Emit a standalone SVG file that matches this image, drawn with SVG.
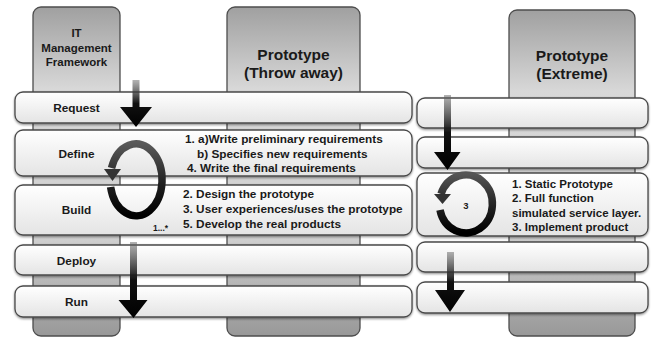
<svg xmlns="http://www.w3.org/2000/svg" width="653" height="341" viewBox="0 0 653 341">
<style>
.col{stroke:#4d4d4d;stroke-width:1.3;fill:url(#colG)}
.bar{stroke:#4a4a4a;stroke-width:1.3;fill:url(#barG);filter:url(#sh)}
.t{font-family:"Liberation Sans",Arial,sans-serif;font-weight:bold;fill:#1a1a1a}
.h{font-size:11.5px;text-anchor:middle}
.big{font-size:15.5px;text-anchor:middle}
.lab{font-size:11.8px;text-anchor:middle}
.it{font-size:11.8px}
.arr{fill:url(#arrG)}
.ring{fill:none;stroke-width:7.5}
</style>
<defs>
<linearGradient id="colG" x1="0" y1="0" x2="0" y2="1">
<stop offset="0" stop-color="#a0a0a0"/>
<stop offset="0.25" stop-color="#d8d8d8"/>
<stop offset="0.7" stop-color="#d0d0d0"/>
<stop offset="1" stop-color="#989898"/>
</linearGradient>
<linearGradient id="barG" x1="0" y1="0" x2="0" y2="1">
<stop offset="0" stop-color="#ffffff"/>
<stop offset="1" stop-color="#e4e4e4"/>
</linearGradient>
<linearGradient id="arrG" x1="0" y1="0" x2="0" y2="1">
<stop offset="0" stop-color="#666" stop-opacity="0.5"/>
<stop offset="0.5" stop-color="#111"/>
<stop offset="1" stop-color="#000"/>
</linearGradient>
<linearGradient id="ringL" gradientUnits="userSpaceOnUse" x1="0" y1="143" x2="0" y2="215">
<stop offset="0" stop-color="#5a5a5a"/>
<stop offset="0.55" stop-color="#222"/>
<stop offset="1" stop-color="#000"/>
</linearGradient>
<linearGradient id="ringR" gradientUnits="userSpaceOnUse" x1="0" y1="174" x2="0" y2="232">
<stop offset="0" stop-color="#555"/>
<stop offset="0.55" stop-color="#222"/>
<stop offset="1" stop-color="#000"/>
</linearGradient>
<filter id="sh" x="-5%" y="-20%" width="110%" height="150%">
<feDropShadow dx="0" dy="1.2" stdDeviation="1.2" flood-color="#000" flood-opacity="0.45"/>
</filter>
</defs>

<g id="col-it">
<rect class="col" x="33" y="7" width="87" height="329" rx="8"/>
<text class="t h" x="76.5" y="37">IT</text>
<text class="t h" x="76.5" y="52">Management</text>
<text class="t h" x="76.5" y="66">Framework</text>
</g>
<g id="col-throw">
<rect class="col" x="227" y="7" width="133" height="329" rx="8"/>
<text class="t big" x="293.5" y="60">Prototype</text>
<text class="t big" x="293.5" y="78">(Throw away)</text>
</g>
<g id="col-extreme">
<rect class="col" x="509" y="10" width="126" height="326" rx="8"/>
<text class="t big" x="572" y="61">Prototype</text>
<text class="t big" x="572" y="79">(Extreme)</text>
</g>

<g id="row-request">
<rect class="bar" x="15" y="92" width="397" height="31" rx="8"/>
<text class="t lab" x="76.5" y="112">Request</text>
</g>
<g id="row-define">
<rect class="bar" x="15" y="130" width="397" height="46" rx="8"/>
<text class="t lab" x="76.5" y="158">Define</text>
<text class="t it" x="185" y="143">1. a)Write preliminary requirements</text>
<text class="t it" x="197" y="158">b) Specifies new requirements</text>
<text class="t it" x="187" y="172">4. Write the final requirements</text>
</g>
<g id="row-build">
<rect class="bar" x="15" y="185" width="397" height="50" rx="8"/>
<text class="t lab" x="76.5" y="214">Build</text>
<text class="t it" x="183" y="198">2. Design the prototype</text>
<text class="t it" x="183" y="213">3. User experiences/uses the prototype</text>
<text class="t it" x="183" y="228">5. Develop the real products</text>
<text class="t" x="153" y="231" style="font-size:8.5px">1...*</text>
</g>
<g id="row-deploy">
<rect class="bar" x="15" y="245" width="397" height="30" rx="8"/>
<text class="t lab" x="76.5" y="265">Deploy</text>
</g>
<g id="row-run">
<rect class="bar" x="15" y="286" width="397" height="31" rx="8"/>
<text class="t lab" x="76.5" y="306">Run</text>
</g>

<g id="rrow-1"><rect class="bar" x="417" y="98" width="231" height="30" rx="8"/></g>
<g id="rrow-2"><rect class="bar" x="417" y="137" width="231" height="31" rx="8"/></g>
<g id="rrow-3">
<rect class="bar" x="417" y="173" width="231" height="63" rx="8"/>
<text class="t it" x="512" y="188" style="font-size:11.5px">1. Static Prototype</text>
<text class="t it" x="512" y="202" style="font-size:11.5px">2. Full function</text>
<text class="t it" x="512" y="217" style="font-size:11.5px">simulated service layer.</text>
<text class="t it" x="512" y="231" style="font-size:11.5px">3. Implement product</text>
<text class="t" x="466" y="209" text-anchor="middle" style="font-size:9.5px">3</text>
</g>
<g id="rrow-4"><rect class="bar" x="417" y="242" width="231" height="30" rx="8"/></g>
<g id="rrow-5"><rect class="bar" x="417" y="282" width="231" height="31" rx="8"/></g>

<g id="connectors">
<path class="arr" d="M132.5,80 H139.5 V107 H152 L136,127 L120,107 H132.5 Z"/>
<path class="arr" d="M130,242 H137 V300 H147.5 L133.5,318 L118.5,300 H130 Z"/>
<path class="arr" d="M444,95 H451 V152 H460.5 L447.5,170 L434,152 H444 Z"/>
<path class="arr" d="M447,252 H454 V290 H465 L450,312 L435,290 H447 Z"/>
<path class="ring" stroke="url(#ringL)" d="M110.6,187 A26,36 0 1,0 111.5,168"/>
<polygon points="104,169 121,169 112.5,181" fill="#333"/>
<path class="ring" stroke="url(#ringR)" d="M440,210 A26.5,29 0 1,0 441,194"/>
<polygon points="434,194 451,194 442.5,204" fill="#333"/>
</g>
</svg>
